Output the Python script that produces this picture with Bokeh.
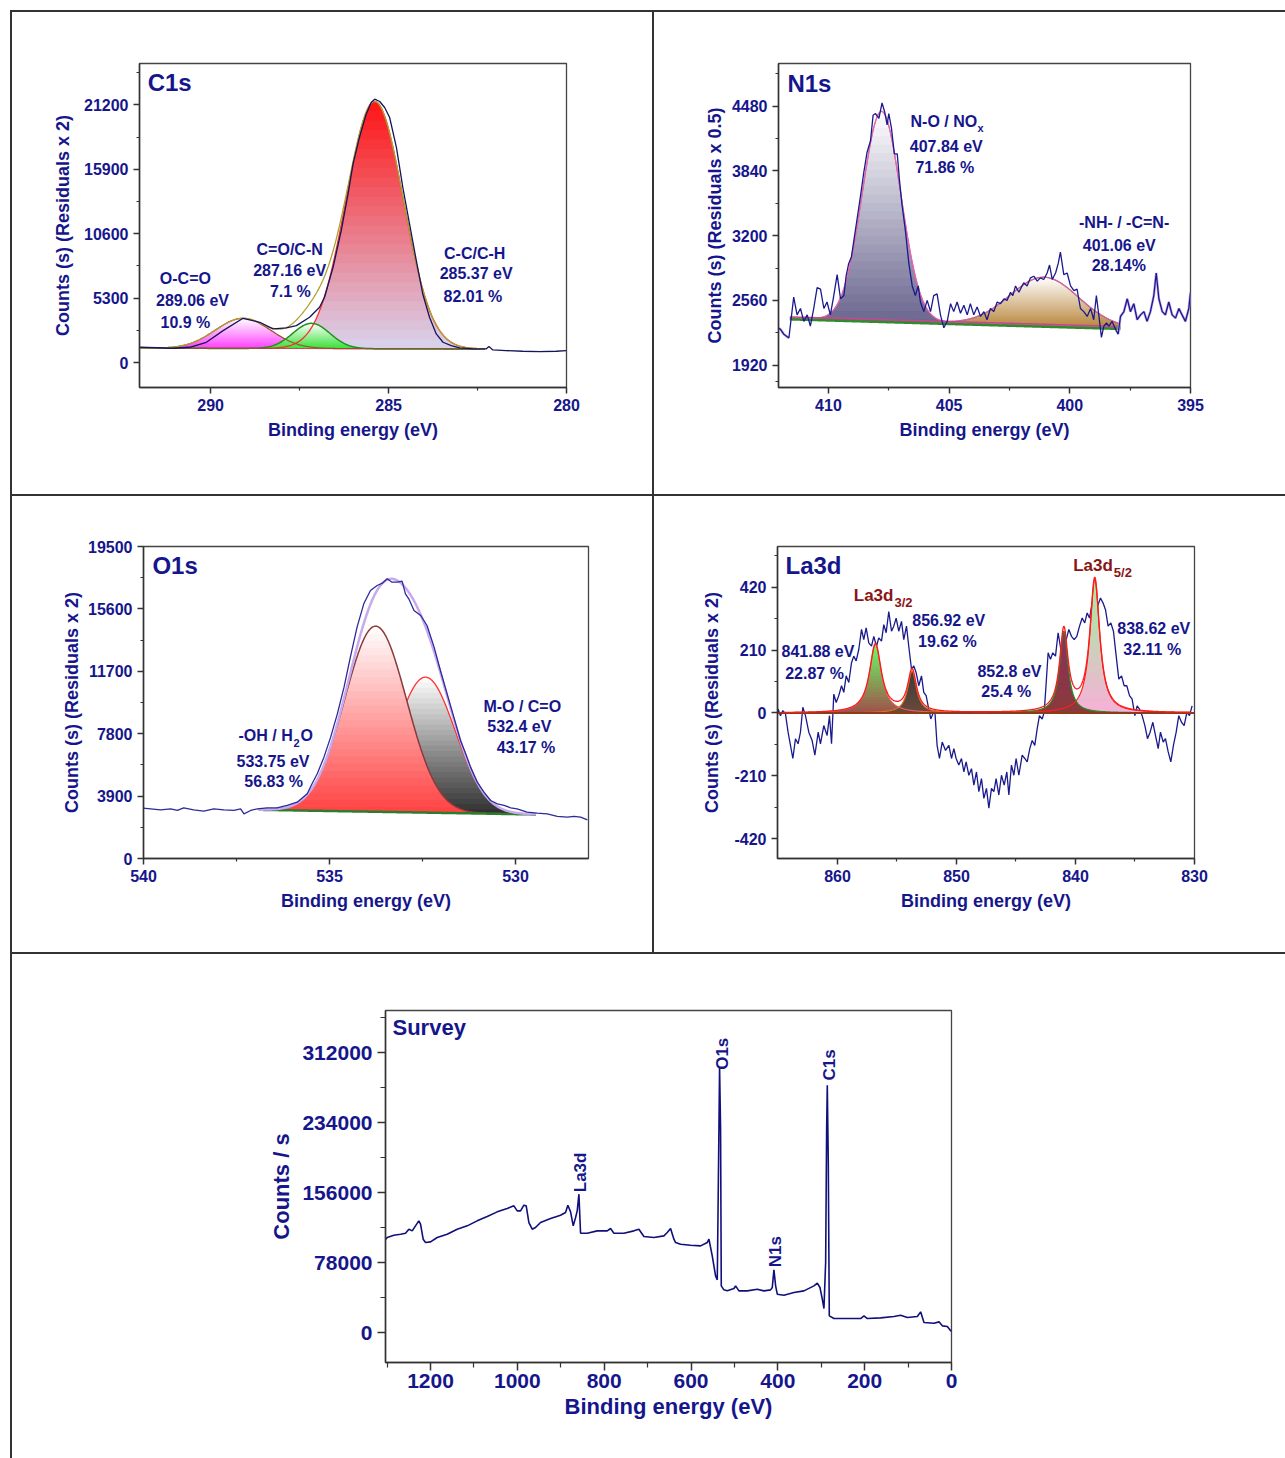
import numpy as np
from bokeh.plotting import figure
from bokeh.models import Range1d, FixedTicker, Label, NumeralTickFormatter, Spacer
from bokeh.layouts import column, row
from bokeh.embed import file_html
from bokeh.resources import INLINE

# ======================= DATA =======================
# ---- C1s ----
c1s_be = [291.99, 291.06, 290.59, 290.12, 289.65, 289.09, 288.62, 288.25, 287.87, 287.59,
          287.22, 286.94, 286.80, 286.56, 286.33, 286.14, 286.00, 285.82, 285.63, 285.49,
          285.39, 285.25, 285.11, 284.97, 284.78, 284.60, 284.41, 284.22, 284.04, 283.85,
          283.66, 283.47, 283.24, 283.00, 282.63, 282.26, 282.18, 282.07, 281.70, 281.23,
          280.76, 280.29, 280.01]
c1s_counts = [1260, 1178, 1260, 1671, 2630, 3643, 3315, 2767, 2849, 3040,
              3725, 4547, 5369, 7834, 10846, 13859, 16324, 18516, 20433, 21392,
              21666, 21474, 20980, 20159, 17694, 14407, 11395, 8381, 5642, 3725,
              2356, 1671, 1397, 1205, 1123, 1123, 1315, 1041, 986, 931,
              904, 931, 986]
c1s_bg_be = [282.3, 292.0]
c1s_bg_counts = [1120, 1180]
c1s_peak_be = [285.39, 287.17, 289.09]
c1s_peak_height = [20335, 2078, 2477]
c1s_peak_sigma = [0.80, 0.52, 0.78]
c1s_xticks = [290, 285, 280]
c1s_xminor = [287.5, 282.5]
c1s_yticks = [0, 5300, 10600, 15900, 21200]
c1s_yminor = [2650, 7950, 13250, 18550, 23850]

# ---- N1s ----
n1s_be = [412.20, 411.99, 411.85, 411.64, 411.44, 411.30, 411.16, 411.02, 410.88, 410.75,
          410.61, 410.47, 410.33, 410.19, 410.06, 409.92, 409.78, 409.64, 409.50, 409.36,
          409.27, 409.16, 409.05, 408.95, 408.81, 408.67, 408.54, 408.40, 408.26, 408.15,
          408.05, 407.91, 407.78, 407.67, 407.57, 407.50, 407.39, 407.27, 407.15, 407.06,
          406.95, 406.81, 406.67, 406.53, 406.40, 406.28, 406.19, 406.05, 405.91, 405.77,
          405.64, 405.50, 405.36, 405.22, 405.08, 404.94, 404.81, 404.67, 404.53, 404.39,
          404.25, 404.12, 403.98, 403.84, 403.70, 403.56, 403.43, 403.29, 403.15, 403.01,
          402.87, 402.73, 402.60, 402.46, 402.36, 402.25, 402.11, 401.91, 401.77, 401.63,
          401.49, 401.35, 401.22, 401.08, 400.94, 400.84, 400.73, 400.59, 400.48, 400.39,
          400.25, 400.11, 399.97, 399.83, 399.70, 399.56, 399.42, 399.28, 399.14, 399.01,
          398.90, 398.80, 398.69, 398.59, 398.48, 398.38, 398.25, 398.11, 398.00, 397.90,
          397.76, 397.62, 397.49, 397.35, 397.21, 397.07, 396.93, 396.80, 396.66, 396.52,
          396.42, 396.31, 396.17, 396.04, 395.90, 395.76, 395.62, 395.48, 395.35, 395.21,
          395.07, 395.00]
n1s_counts = [2305, 2274, 2226, 2188, 2592, 2417, 2480, 2353, 2417, 2305,
              2480, 2687, 2671, 2480, 2544, 2417, 2608, 2815, 2576, 2608,
              2799, 2926, 2990, 3149, 3372, 3595, 3818, 4025, 4136, 4391,
              4407, 4359, 4512, 4423, 4295, 4407, 4264, 4009, 4009, 3754,
              3499, 3245, 2926, 2703, 2608, 2703, 2544, 2449, 2560, 2449,
              2608, 2624, 2417, 2289, 2353, 2528, 2449, 2544, 2433, 2512,
              2417, 2528, 2417, 2496, 2401, 2449, 2369, 2480, 2449, 2544,
              2528, 2576, 2560, 2640, 2608, 2703, 2640, 2735, 2703, 2783,
              2799, 2751, 2783, 2767, 2831, 2910, 2767, 2831, 2926, 3038,
              2815, 2831, 2703, 2656, 2671, 2480, 2449, 2401, 2480, 2369,
              2608, 2417, 2194, 2305, 2337, 2305, 2353, 2274, 2226, 2401,
              2449, 2576, 2449, 2528, 2369, 2417, 2449, 2353, 2449, 2608,
              2831, 2576, 2449, 2417, 2544, 2417, 2385, 2480, 2417, 2353,
              2480, 2640]
n1s_bg_be = [397.9, 411.6]
n1s_bg_counts = [2290, 2385]
n1s_peak_be = [407.80, 401.06]
n1s_peak_height = [2070, 477]
n1s_peak_sigma = [0.80, 1.42]
n1s_xticks = [410, 405, 400, 395]
n1s_xminor = [407.5, 402.5, 397.5]
n1s_yticks = [1920, 2560, 3200, 3840, 4480]
n1s_yminor = [1760, 2240, 2880, 3520, 4160, 4800]

# ---- O1s ----
o1s_be = [540.08, 539.81, 539.54, 539.27, 539.09, 538.92, 538.65, 538.38, 538.11, 537.84,
          537.57, 537.39, 537.30, 537.12, 536.94, 536.68, 536.41, 536.14, 535.87, 535.60,
          535.47, 535.33, 535.15, 534.97, 534.79, 534.61, 534.44, 534.26, 534.08, 533.90,
          533.72, 533.58, 533.45, 533.32, 533.18, 533.05, 532.96, 532.87, 532.73, 532.55,
          532.38, 532.19, 532.02, 531.84, 531.66, 531.48, 531.34, 531.21, 531.03, 530.85,
          530.67, 530.49, 530.31, 530.13, 529.96, 529.69, 529.42, 529.15, 528.88, 528.61,
          528.43, 528.25, 528.07]
o1s_counts = [3169, 3107, 3044, 3107, 3002, 3169, 3044, 2961, 3107, 3044,
              3002, 3107, 2794, 3002, 3107, 3169, 3169, 3315, 3523, 4044,
              4669, 5294, 6335, 7585, 9043, 10710, 12584, 14459, 15917, 16750,
              17063, 17209, 17479, 17271, 17271, 17334, 16542, 16230, 15501, 15188,
              14563, 13209, 11751, 10293, 8835, 7377, 6544, 5710, 4773, 4148,
              3627, 3419, 3315, 3169, 3107, 2899, 2836, 2794, 2627, 2586,
              2627, 2586, 2419]
o1s_bg_be = [529.45, 536.9]
o1s_bg_counts = [2752, 3044]
o1s_peak_be = [533.76, 532.42]
o1s_peak_height = [11600, 8465]
o1s_peak_sigma = [0.83, 0.80]
o1s_xticks = [540, 535, 530]
o1s_xminor = [537.5, 532.5]
o1s_yticks = [0, 3900, 7800, 11700, 15600, 19500]
o1s_yminor = [1950, 5850, 9750, 13650, 17550]

# ---- La3d ----
la_be = [865.21, 864.99, 864.79, 864.59, 864.37, 864.15, 863.95, 863.75, 863.53, 863.31,
         863.11, 862.91, 862.69, 862.41, 862.13, 861.90, 861.62, 861.43, 861.15, 860.87,
         860.67, 860.50, 860.31, 860.11, 859.89, 859.66, 859.47, 859.27, 859.05, 858.82,
         858.63, 858.43, 858.21, 857.98, 857.79, 857.59, 857.37, 857.14, 856.95, 856.72,
         856.53, 856.30, 856.11, 855.91, 855.69, 855.46, 855.27, 855.07, 854.85, 854.62,
         854.43, 854.20, 854.01, 853.78, 853.59, 853.39, 853.17, 852.94, 852.75, 852.55,
         852.33, 852.16, 851.99, 851.82, 851.63, 851.43, 851.20, 850.92, 850.64, 850.42,
         850.22, 850.03, 849.80, 849.58, 849.38, 849.19, 848.96, 848.74, 848.54, 848.32,
         848.12, 847.90, 847.70, 847.48, 847.28, 847.06, 846.86, 846.67, 846.44, 846.22,
         845.99, 845.77, 845.60, 845.38, 845.18, 844.99, 844.76, 844.48, 844.26, 844.06,
         843.84, 843.64, 843.42, 843.22, 843.03, 842.80, 842.63, 842.47, 842.30, 842.10,
         841.91, 841.68, 841.46, 841.23, 841.01, 840.78, 840.56, 840.34, 840.11, 839.89,
         839.66, 839.44, 839.22, 839.02, 838.82, 838.60, 838.38, 838.15, 837.90, 837.68,
         837.48, 837.26, 837.03, 836.81, 836.58, 836.36, 836.13, 835.91, 835.69, 835.46,
         835.24, 835.01, 834.82, 834.62, 834.40, 834.17, 833.95, 833.73, 833.50, 833.28,
         833.05, 832.86, 832.63, 832.44, 832.21, 831.99, 831.77, 831.54, 831.32, 831.09,
         830.87, 830.64, 830.42, 830.20]
la_counts = [-64, 13, -9, 8, -3, -64, -108, -152, -86, -103,
             -64, 19, -9, -64, -92, -141, -64, -103, -42, -75,
             -9, -103, 63, 35, 58, 91, 69, 124, 102, 168,
             190, 174, 212, 279, 245, 284, 234, 223, 256, 223,
             251, 240, 295, 268, 339, 273, 290, 317, 273, 306,
             245, 290, 223, 146, 157, 135, 91, 124, 69, 58,
             13, -20, -3, 8, -108, -152, -97, -125, -108, -152,
             -119, -152, -174, -152, -197, -163, -208, -186, -241, -197,
             -263, -219, -285, -252, -318, -252, -263, -219, -274, -208,
             -241, -197, -274, -174, -208, -152, -208, -141, -152, -163,
             -119, -92, -108, -53, -9, -20, 2, 96, 201, 179,
             201, 190, 268, 212, 234, 245, 279, 256, 245, 256,
             290, 317, 301, 334, 317, 367, 384, 356, 384, 367,
             345, 290, 301, 273, 190, 113, 124, 91, 91, 58,
             46, -9, 24, 13, -9, -42, -86, -64, -31, -75,
             -119, -64, -97, -86, -130, -163, -108, -64, -9, -31,
             -42, 2, -9, 24]
la_peak_be = [856.81, 853.73, 840.98, 838.38]
la_peak_height = [229, 140, 273, 446]
la_peak_fwhm = [1.2, 0.9, 0.85, 1.0]
la_xticks = [860, 850, 840, 830]
la_xminor = [855, 845, 835]
la_yticks = [-420, -210, 0, 210, 420]
la_yminor = [-315, -105, 105, 315, 525]

# ---- Survey ----
sv_be = [1303.0, 1299.8, 1284.5, 1269.1, 1257.6, 1249.9, 1242.2, 1234.6, 1226.9, 1223.0,
         1216.9, 1211.5, 1200.0, 1184.6, 1161.6, 1138.6, 1115.5, 1092.5, 1069.4, 1046.4,
         1023.4, 1008.0, 1000.3, 992.6, 985.0, 979.6, 973.4, 965.8, 958.1, 946.6,
         923.5, 900.5, 889.0, 883.6, 877.4, 871.3, 865.9, 862.1, 858.2, 854.4,
         839.0, 816.0, 792.9, 785.3, 777.6, 754.6, 731.5, 720.0, 708.5, 685.4,
         662.4, 654.7, 647.1, 639.4, 635.5, 624.0, 601.0, 577.9, 562.6, 558.7,
         551.1, 543.4, 539.5, 535.7, 534.2, 531.9, 530.3, 524.2, 516.5, 501.1,
         497.3, 489.6, 470.4, 447.4, 432.0, 416.7, 412.8, 409.0, 405.1, 401.3,
         386.0, 362.9, 339.9, 316.8, 309.1, 303.0, 297.6, 293.8, 289.9, 287.6,
         286.1, 283.8, 281.5, 270.7, 240.0, 209.3, 201.6, 193.9, 163.2, 132.5,
         117.1, 101.8, 78.7, 71.1, 63.4, 40.3, 28.8, 21.1, 9.6, 1.9, 0.5]
sv_counts = [104000, 105849, 108449, 109563, 110677, 115134, 113277, 118848, 124419, 120705,
             103992, 100278, 101021, 105849, 109563, 115134, 118848, 124419, 129247, 134447,
             138160, 141132, 135561, 135561, 141874, 141132, 122562, 115134, 116991, 122562,
             127019, 130733, 133704, 141874, 134447, 118848, 128133, 135561, 154131, 110677,
             110677, 113277, 113277, 115877, 110677, 110677, 113277, 115134, 106963, 105849,
             107706, 111420, 115877, 104000, 100278, 98421, 97307, 96564, 100278, 103992,
             85422, 63138, 58681, 226554, 295263, 226554, 51996, 47539, 46425, 49025,
             51996, 46425, 46425, 48282, 46425, 47539, 50139, 69823, 51996, 42711,
             41597, 44568, 46425, 51996, 54967, 50139, 37140, 26741, 77994, 226554,
             275579, 189414, 18570, 15599, 15599, 15599, 18570, 15599, 16342, 17827,
             19313, 16713, 17827, 23027, 11142, 10399, 11885, 7428, 6685, 1857, 2000]
sv_xticks = [1200, 1000, 800, 600, 400, 200, 0]
sv_xminor = [1300, 1100, 900, 700, 500, 300, 100]
sv_yticks = [0, 78000, 156000, 234000, 312000]
sv_yminor = [39000, 117000, 195000, 273000, 351000]

# ======================= STYLE HELPERS =======================
FONT = "Liberation Sans"
NAVY = "#16168c"
DRED = "#8b1414"
AXC = "#333333"
LINE = "#333333"


def hex_rgb(h):
    h = h.lstrip("#")
    return np.array([int(h[i:i + 2], 16) for i in (0, 2, 4)], dtype=float)


def rgb_hex(c):
    return "#%02x%02x%02x" % tuple(int(round(v)) for v in c)


def gauss(x, c, h, s):
    return h * np.exp(-0.5 * ((x - c) / s) ** 2)


def lorentz(x, c, h, fw):
    return h / (1.0 + ((x - c) / (fw / 2.0)) ** 2)


def grad_fill(p, x, base, curve, c_top, c_bot, n=26):
    lo = float(np.min(base))
    hi = float(np.max(curve))
    edges = np.linspace(lo, hi, n + 1)
    ct, cb = hex_rgb(c_top), hex_rgb(c_bot)
    for i in range(n):
        a, b = edges[i], edges[i + 1]
        bb = b + 0.6 * (b - a) if i < n - 1 else b
        y1 = np.minimum(np.maximum(base, a), curve)
        y2 = np.minimum(np.maximum(base, bb), curve)
        t = (i + 0.5) / n
        p.varea(x=x, y1=y1, y2=y2, fill_color=rgb_hex(cb + (ct - cb) * t))


def make_fig(w, h, xr, yr, mb, xt, xmt, yt, ymt, xlabel, ylabel,
             fs=16, lfs=18, tick_out=6, xstand=5, ystand=5, xlstand=6, ylstand=10):
    p = figure(width=w, height=h, x_range=Range1d(*xr), y_range=Range1d(*yr),
               output_backend="svg", toolbar_location=None, title_location=None,
               min_border_left=mb[0], min_border_right=mb[1],
               min_border_top=mb[2], min_border_bottom=mb[3])
    p.grid.visible = False
    p.outline_line_color = "#444444"
    p.outline_line_width = 1.3
    p.background_fill_color = "white"
    p.border_fill_color = "white"
    for ax, t, mt in ((p.xaxis[0], xt, xmt), (p.yaxis[0], yt, ymt)):
        ax.ticker = FixedTicker(ticks=t, minor_ticks=mt)
        ax.formatter = NumeralTickFormatter(format="0")
        ax.axis_line_color = AXC
        ax.axis_line_width = 1.5
        ax.major_tick_line_color = AXC
        ax.major_tick_line_width = 1.5
        ax.minor_tick_line_color = AXC
        ax.minor_tick_line_width = 1.2
        ax.major_tick_out = tick_out
        ax.major_tick_in = 0
        ax.minor_tick_out = max(3, tick_out - 3)
        ax.minor_tick_in = 0
        ax.major_label_text_font = FONT
        ax.major_label_text_font_style = "bold"
        ax.major_label_text_font_size = f"{fs}px"
        ax.major_label_text_color = NAVY
        ax.axis_label_text_font = FONT
        ax.axis_label_text_font_style = "bold"
        ax.axis_label_text_font_size = f"{lfs}px"
        ax.axis_label_text_color = NAVY
    p.xaxis.axis_label = xlabel
    p.yaxis.axis_label = ylabel
    p.xaxis.major_label_standoff = xstand
    p.yaxis.major_label_standoff = ystand
    p.xaxis.axis_label_standoff = xlstand
    p.yaxis.axis_label_standoff = ylstand
    return p


def txt(p, x, y, s, size=16, color=NAVY, align="center", angle=0, baseline="middle"):
    p.add_layout(Label(x=x, y=y, text=s, text_font=FONT, text_font_style="bold",
                       text_font_size=f"{size}px", text_color=color, text_align=align,
                       text_baseline=baseline, angle=angle, angle_units="deg"))


def bar(w, h):
    return Spacer(width=w, height=h, styles={"background-color": LINE})


def gap(w, h):
    return Spacer(width=w, height=h)


BE_LABEL = "Binding energy (eV)"

# ======================= C1s PANEL =======================
p1 = make_fig(640, 482, (292.0, 280.0), (-2050, 24600), (127, 86, 51, 107),
              c1s_xticks, c1s_xminor, c1s_yticks, c1s_yminor,
              BE_LABEL, "Counts (s) (Residuals x 2)", ylstand=8)
xg = np.linspace(292.0, 282.3, 400)
base = np.interp(xg, c1s_bg_be, c1s_bg_counts)
cc = [gauss(xg, c, h, s) for c, h, s in zip(c1s_peak_be, c1s_peak_height, c1s_peak_sigma)]
grad_fill(p1, xg, base, base + cc[0], "#ff1414", "#d8d4ee")
grad_fill(p1, xg, base, base + cc[2], "#ffffff", "#ff3cff")
grad_fill(p1, xg, base, base + cc[1], "#ffffff", "#33e033")
p1.line(xg, base + cc[0], line_color="#ff2a2a", line_width=1.3)
p1.line(xg, base + cc[2], line_color="#a0522d", line_width=1.3)
p1.line(xg, base + cc[1], line_color="#1f8f1f", line_width=1.5)
p1.line(xg, base, line_color="#b04040", line_width=1.0)
p1.line(xg, base + cc[0] + cc[1] + cc[2], line_color="#b0a030", line_width=1.3)
p1.line(c1s_be, c1s_counts, line_color="#15155a", line_width=1.3)
txt(p1, 291.77, 23008, "C1s", size=24, align="left")
txt(p1, 290.71, 6878, "O-C=O")
txt(p1, 290.51, 5095, "289.06 eV")
txt(p1, 290.71, 3262, "10.9 %")
txt(p1, 287.78, 9261, "C=O/C-N")
txt(p1, 287.78, 7560, "287.16 eV")
txt(p1, 287.76, 5859, "7.1 %")
txt(p1, 282.58, 8981, "C-C/C-H")
txt(p1, 282.54, 7288, "285.37 eV")
txt(p1, 282.63, 5423, "82.01 %")

# ======================= N1s PANEL =======================
p2 = make_fig(631, 482, (412.07, 395.0), (1699, 4902), (124, 95, 51, 97),
              n1s_xticks, n1s_xminor, n1s_yticks, n1s_yminor,
              BE_LABEL, "Counts (s) (Residuals x 0.5)", ylstand=4)
xg = np.linspace(411.6, 397.9, 400)
base = np.interp(xg, n1s_bg_be, n1s_bg_counts)
nc = [gauss(xg, c, h, s) for c, h, s in zip(n1s_peak_be, n1s_peak_height, n1s_peak_sigma)]
grad_fill(p2, xg, base, base + nc[0], "#ffffff", "#66628c")
grad_fill(p2, xg, base, base + nc[1], "#ffffff", "#b8853a")
p2.line(xg, base + nc[0], line_color="#e0509a", line_width=1.3)
p2.line(xg, base + nc[1], line_color="#b04a7a", line_width=1.3)
p2.line(xg, base + nc[0] + nc[1], line_color="#e070b0", line_width=1.0)
p2.line(xg, base + 12, line_color="#c04a90", line_width=1.5)
p2.line(xg, base - 12, line_color="#2e8b2e", line_width=2.5)
n1s_edge_x = [b for b in n1s_be if b > 411.45]
n1s_edge_y = [c for b, c in zip(n1s_be, n1s_counts) if b > 411.45]
n1s_edge2_x = [b for b in n1s_be if b < 398.05]
n1s_edge2_y = [c for b, c in zip(n1s_be, n1s_counts) if b < 398.05]
p2.line(n1s_edge_x, n1s_edge_y, line_color="#c4aaec", line_width=2.6)
p2.line(n1s_edge2_x, n1s_edge2_y, line_color="#c4aaec", line_width=2.6)
p2.line(n1s_be, n1s_counts, line_color="#1a1a8c", line_width=1.3)
txt(p2, 411.70, 4700, "N1s", size=24, align="left")
txt(p2, 406.60, 4333, "N-O / NO", align="left")
txt(p2, 403.83, 4266, "x", size=11, align="left")
txt(p2, 405.12, 4084, "407.84 eV")
txt(p2, 405.18, 3876, "71.86 %")
txt(p2, 397.75, 3327, "-NH- / -C=N-")
txt(p2, 397.95, 3102, "401.06 eV")
txt(p2, 397.97, 2901, "28.14%")

# ======================= O1s PANEL =======================
p3 = make_fig(640, 456, (540.0, 528.04), (0, 19500), (131, 64, 50, 94),
              o1s_xticks, o1s_xminor, o1s_yticks, o1s_yminor,
              BE_LABEL, "Counts (s) (Residuals x 2)", ylstand=3)
xg = np.linspace(536.9, 529.45, 400)
base = np.interp(xg, o1s_bg_be, o1s_bg_counts)
oc = [gauss(xg, c, h, s) for c, h, s in zip(o1s_peak_be, o1s_peak_height, o1s_peak_sigma)]
grad_fill(p3, xg, base, base + oc[1], "#ffffff", "#2e2e2e")
p3.line(xg, base + oc[1], line_color="#ff3030", line_width=1.3)
grad_fill(p3, xg, base, base + oc[0], "#ffffff", "#ff4040")
p3.line(xg, base + oc[0], line_color="#8b3a3a", line_width=1.5)
p3.line(xg, base, line_color="#2e7d2e", line_width=2.5)
p3.line(xg, base + oc[0] + oc[1], line_color="#c9a9ee", line_width=2.5)
p3.line(o1s_be, o1s_counts, line_color="#2b2b9a", line_width=1.3)
txt(p3, 539.76, 18313, "O1s", size=24, align="left")
txt(p3, 537.446, 7688, "-OH / H", align="left")
txt(p3, 535.97, 7250, "2", size=11, align="left")
txt(p3, 535.78, 7688, "O", align="left")
txt(p3, 536.52, 6063, "533.75 eV")
txt(p3, 536.50, 4831, "56.83 %")
txt(p3, 529.82, 9519, "M-O / C=O")
txt(p3, 529.90, 8250, "532.4 eV")
txt(p3, 529.72, 6956, "43.17 %")

# ======================= La3d PANEL =======================
p4 = make_fig(631, 456, (865.04, 830.0), (-486, 556), (123, 91, 50, 92),
              la_xticks, la_xminor, la_yticks, la_yminor,
              BE_LABEL, "Counts (s) (Residuals x 2)", ylstand=9)
p4.line(la_be, la_counts, line_color="#1a1a8c", line_width=1.3)
xg = np.linspace(864.6, 830.3, 900)
base = np.zeros_like(xg)
lc = [lorentz(xg, c, h, f) for c, h, f in zip(la_peak_be, la_peak_height, la_peak_fwhm)]
grad_fill(p4, xg, base, lc[0], "#66ff66", "#a0504a")
grad_fill(p4, xg, base, lc[1], "#3a3a3a", "#6b4a3a")
grad_fill(p4, xg, base, lc[3], "#9ef09e", "#f8b0d8")
grad_fill(p4, xg, base, lc[2], "#8a3060", "#8a3a3a")
p4.line(xg, lc[0], line_color="#e06060", line_width=1.2)
p4.line(xg, lc[1], line_color="#e07020", line_width=1.2)
p4.line(xg, lc[3], line_color="#ff2020", line_width=1.2)
p4.line(xg, lc[2], line_color="#2a8a2a", line_width=1.3)
p4.line([865.04, 830.0], [0, 0], line_color="#8b3a1a", line_width=2)
p4.line(xg, lc[0] + lc[1] + lc[2] + lc[3], line_color="#ff1a1a", line_width=1.3)
txt(p4, 864.37, 491, "La3d", size=24, align="left")
txt(p4, 858.63, 394, "La3d", size=17, color=DRED, align="left")
txt(p4, 855.21, 370, "3/2", size=13, color=DRED, align="left")
txt(p4, 840.19, 491, "La3d", size=17, color=DRED, align="left")
txt(p4, 836.78, 469, "5/2", size=13, color=DRED, align="left")
txt(p4, 861.64, 204, "841.88 eV")
txt(p4, 861.93, 132, "22.87 %")
txt(p4, 850.65, 309, "856.92 eV")
txt(p4, 850.76, 240, "19.62 %")
txt(p4, 845.55, 140, "852.8 eV")
txt(p4, 845.82, 72, "25.4 %")
txt(p4, 833.42, 283, "838.62 eV")
txt(p4, 833.55, 211, "32.11 %")

# ======================= SURVEY PANEL =======================
p5 = make_fig(1273, 504, (1303.7, 0.0), (-33400, 358800), (373, 334, 56, 96),
              sv_xticks, sv_xminor, sv_yticks, sv_yminor,
              BE_LABEL, "Counts / s",
              fs=21, lfs=22, tick_out=8, xstand=3, ystand=5, xlstand=3, ylstand=5)
p5.line(sv_be, sv_counts, line_color="#10107a", line_width=1.6)
txt(p5, 1287.6, 339900, "Survey", size=22, align="left")
txt(p5, 527.5, 292700, "O1s", size=17, align="left", angle=90)
txt(p5, 280.7, 280800, "C1s", size=17, align="left", angle=90)
txt(p5, 405.1, 72760, "N1s", size=17, align="left", angle=90)
txt(p5, 853.7, 156300, "La3d", size=17, align="left", angle=90)

# ======================= PAGE LAYOUT (panel divider lines) =======================
inner = column(
    bar(1273, 2),
    row(p1, bar(2, 482), p2),
    bar(1273, 2),
    row(p3, bar(2, 456), p4),
    bar(1273, 2),
    p5,
)
layout = column(gap(1285, 10), row(gap(10, 1448), bar(2, 1448), inner))
open("out.html", "w").write(file_html(layout, INLINE))
